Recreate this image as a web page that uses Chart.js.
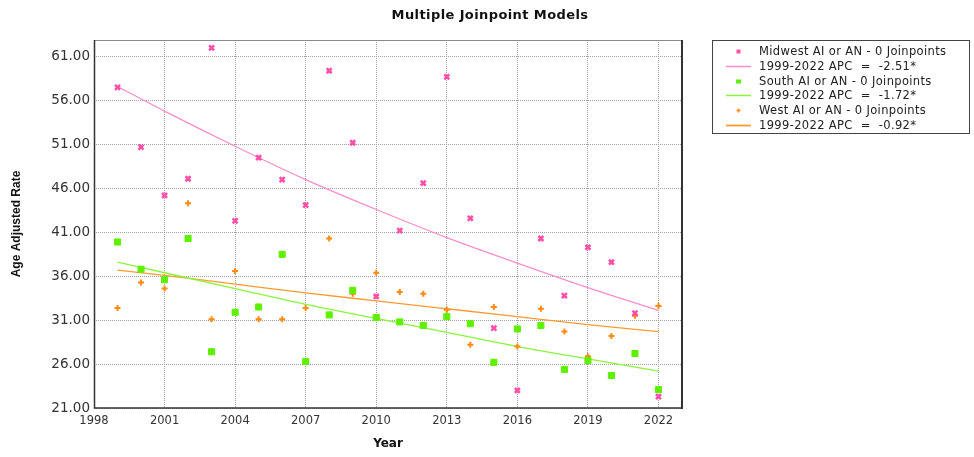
<!DOCTYPE html>
<html><head><meta charset="utf-8">
<script src="https://cdn.jsdelivr.net/npm/chart.js@4.4.1/dist/chart.umd.min.js"></script>
<style>
html,body{margin:0;padding:0;background:#fff;}
#wrap{position:relative;width:974px;height:457px;overflow:hidden;background:#fff;}
#c{position:absolute;left:0;top:0;}
#title{position:absolute;left:340px;width:300px;top:7px;line-height:15px;text-align:center;font:bold 13px 'DejaVu Sans';letter-spacing:0.4px;color:#111;white-space:nowrap;}
#legend{position:absolute;left:712px;top:40px;width:256px;height:92px;border:1px solid #444;}
.row{position:absolute;left:0;height:15px;line-height:15px;font:11.5px 'DejaVu Sans';letter-spacing:0.35px;color:#222;white-space:pre;}
.row svg{position:absolute;left:12px;top:0;}
.row span{position:absolute;left:46px;top:0;}
</style></head>
<body>
<div id="wrap"><canvas id="c" width="974" height="457"></canvas><div id="title">Multiple Joinpoint Models</div><div id="legend"></div></div>
<script>
// ---- data ----
const years = [1999,2000,2001,2002,2003,2004,2005,2006,2007,2008,2009,2010,2011,2012,2013,2014,2015,2016,2017,2018,2019,2020,2021,2022];
const midwestRates = [57.5,50.7,45.2,47.1,62.0,42.3,49.5,47.0,44.1,59.4,51.2,33.7,41.2,46.6,58.7,42.6,30.1,23.0,40.3,33.8,39.3,37.6,31.8,22.3];
const southRates   = [39.9,36.8,35.6,40.3,27.4,31.9,32.5,38.5,26.3,31.6,34.4,31.3,30.8,30.4,31.4,30.6,26.2,30.0,30.4,25.4,26.4,24.7,27.2,23.1];
const westRates    = [32.4,35.3,34.6,44.3,31.1,36.6,31.1,31.1,32.4,40.3,34.0,36.4,34.2,34.0,32.2,28.2,32.5,28.0,32.3,29.7,26.9,29.2,31.5,32.6];
const trendYears   = [1999,2001,2004,2007,2010,2013,2016,2019,2022];
const midwestTrend = [57.6,54.8,50.8,47.0,43.6,40.4,37.5,34.7,32.1];
const southTrend   = [37.6,36.4,34.6,32.8,31.2,29.6,28.0,26.6,25.2];
const westTrend    = [36.7,36.1,35.1,34.1,33.2,32.3,31.4,30.5,29.7];
const xTicks = [1998,2001,2004,2007,2010,2013,2016,2019,2022];
const yTicks = [21,26,31,36,41,46,51,56,61];
const seriesLabels = ['Midwest AI or AN - 0 Joinpoints','South AI or AN - 0 Joinpoints','West AI or AN - 0 Joinpoints'];
const trendLabels = ['1999-2022 APC  =  -2.51*','1999-2022 APC  =  -1.72*','1999-2022 APC  =  -0.92*'];

const pink='#ff4fa7', pinkLine='#ff8ccc', green='#5ef000', greenLine='#8af53a', orange='#ff8a12', orangeLine='#ff9a30';

const pts = (xs, ys) => xs.map((x,i)=>({x, y: ys[i]}));

const datasets = [
  {label:seriesLabels[0], data:pts(years,midwestRates), pointStyle:'crossRot', radius:3.5, borderWidth:2.6, borderColor:pink, backgroundColor:pink, showLine:false, order:1},
  {label:trendLabels[0], data:pts(trendYears,midwestTrend), showLine:true, pointRadius:0, borderWidth:1.3, borderColor:pinkLine, cubicInterpolationMode:'monotone', order:2},
  {label:seriesLabels[1], data:pts(years,southRates), pointStyle:'rect', radius:4.3, borderWidth:1, borderColor:green, backgroundColor:green, showLine:false, order:1},
  {label:trendLabels[1], data:pts(trendYears,southTrend), showLine:true, pointRadius:0, borderWidth:1.3, borderColor:greenLine, cubicInterpolationMode:'monotone', order:2},
  {label:seriesLabels[2], data:pts(years,westRates), pointStyle:'cross', radius:3, borderWidth:2, borderColor:orange, backgroundColor:orange, showLine:false, order:1},
  {label:trendLabels[2], data:pts(trendYears,westTrend), showLine:true, pointRadius:0, borderWidth:1.3, borderColor:orangeLine, cubicInterpolationMode:'monotone', order:2}
];

const framePlugin = {id:'frame', afterDraw(chart){
  const {ctx, chartArea:a} = chart;
  ctx.save();
  ctx.strokeStyle='#8a8a8a'; ctx.lineWidth=1;
  ctx.beginPath(); ctx.moveTo(a.left, a.top+0.5); ctx.lineTo(a.right, a.top+0.5); ctx.stroke();
  ctx.strokeStyle='#333'; ctx.lineWidth=1.5;
  ctx.beginPath(); ctx.moveTo(a.left+0.5, a.top); ctx.lineTo(a.left+0.5, a.bottom); ctx.lineTo(a.right, a.bottom); ctx.stroke();
  ctx.lineWidth=2;
  ctx.beginPath(); ctx.moveTo(a.right, a.top); ctx.lineTo(a.right, a.bottom+1); ctx.stroke();
  ctx.restore();
}};

const gridOpts = {color:'#a0a0a0', lineWidth:1, drawTicks:false};
new Chart(document.getElementById('c'), {
  type:'scatter',
  data:{datasets},
  plugins:[framePlugin],
  options:{
    responsive:false, animation:false, devicePixelRatio:1,
    layout:{padding:{left:0, top:40, right:292, bottom:0}},
    plugins:{legend:{display:false}, title:{display:false}, tooltip:{enabled:false}},
    scales:{
      x:{type:'linear', min:1998, max:2023,
        afterBuildTicks: s => { s.ticks = xTicks.map(v=>({value:v})); },
        afterFit: s => { s.height = 49; },
        grid:gridOpts, border:{display:false, dash:[1,1]},
        ticks:{padding:6, color:'#333', autoSkip:false, maxRotation:0, font:{family:'DejaVu Sans', size:11.5}, callback:v=>String(v)},
        title:{display:true, text:'Year', color:'#111', font:{family:'DejaVu Sans', size:12, weight:'bold'}, padding:{top:0, bottom:6}}
      },
      y:{type:'linear', min:21, max:62.9,
        afterBuildTicks: s => { s.ticks = yTicks.map(v=>({value:v})); },
        afterFit: s => { s.width = 94; },
        grid:gridOpts, border:{display:false, dash:[1,1]},
        ticks:{padding:4, color:'#333', font:{family:'DejaVu Sans', size:13.5}, callback:v=>Number(v).toFixed(2)},
        title:{display:true, text:'Age Adjusted Rate', color:'#111', font:{family:"'Liberation Sans Narrow','Liberation Sans'", size:12, weight:'bold'}, padding:{top:9, bottom:0}}
      }
    }
  }
});

// ---- HTML legend built from the datasets ----
const legend = document.getElementById('legend');
const icons = [
  `<svg width="27" height="15"><rect x="11.5" y="5.5" width="4" height="4" fill="${pink}"/></svg>`,
  `<svg width="27" height="15"><line x1="1" y1="7.5" x2="26" y2="7.5" stroke="${pinkLine}" stroke-width="1.5"/></svg>`,
  `<svg width="27" height="15"><rect x="11" y="5.5" width="5" height="4" fill="${green}"/></svg>`,
  `<svg width="27" height="15"><line x1="1" y1="7.5" x2="26" y2="7.5" stroke="${greenLine}" stroke-width="1.5"/></svg>`,
  `<svg width="27" height="15"><path d="M13.5 5.5v4M11.5 7.5h4" stroke="${orange}" stroke-width="1.4"/></svg>`,
  `<svg width="27" height="15"><line x1="1" y1="7.5" x2="26" y2="7.5" stroke="${orangeLine}" stroke-width="1.8"/></svg>`
];
datasets.forEach((d,i)=>{
  const r = document.createElement('div');
  r.className='row';
  r.style.top = (3.3 + i*14.7) + 'px';
  r.style.width = '256px';
  r.innerHTML = icons[i] + '<span></span>';
  r.querySelector('span').textContent = d.label;
  legend.appendChild(r);
});
</script>
</body></html>
